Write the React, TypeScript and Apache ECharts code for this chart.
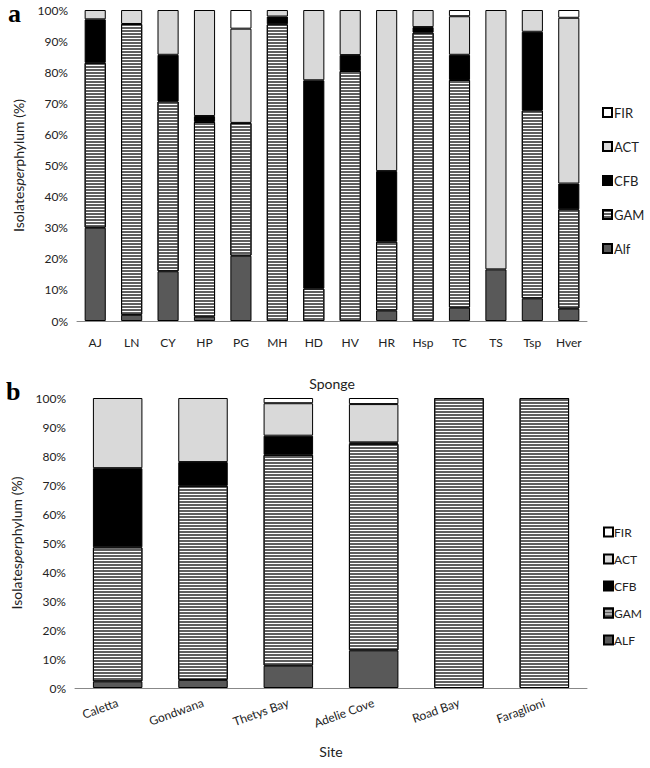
import React, { useEffect, useRef } from "react";
import * as echarts from "echarts";

const spongeCats = ["AJ", "LN", "CY", "HP", "PG", "MH", "HD", "HV", "HR", "Hsp", "TC", "TS", "Tsp", "Hver"];
const aAlf = [30, 2, 16, 1.4, 21, 0, 0, 0, 3.4, 0, 4.3, 16.6, 7.3, 4];
const aGAM = [53, 93.5, 54.6, 62.6, 42.7, 95.4, 10.4, 80.4, 22.1, 92.7, 73.2, 0, 60.4, 31.9];
const aCFB = [14, 0, 15, 1.9, 0, 2.5, 67, 5.1, 22.7, 1.8, 8.1, 0, 25.3, 8.3];
const aACT = [3, 4.5, 14.4, 34.1, 30.3, 2.1, 22.6, 14.5, 51.8, 5.5, 12.4, 83.4, 7, 53.3];
const aFIR = [0, 0, 0, 0, 6, 0, 0, 0, 0, 0, 2, 0, 0, 2.5];

const siteCats = ["Caletta", "Gondwana", "Thetys Bay", "Adelie Cove", "Road Bay", "Faraglioni"];
const bALF = [2.3, 2.8, 7.7, 13, 0, 0];
const bGAM = [46.2, 66.9, 72.7, 71.2, 100, 100];
const bCFB = [27.3, 8.2, 6.6, 0.5, 0, 0];
const bACT = [24.2, 22.1, 11.2, 13.2, 0, 0];
const bFIR = [0, 0, 1.8, 2.1, 0, 0];

const yTicks = [0, 10, 20, 30, 40, 50, 60, 70, 80, 90, 100];

const FONT = "Lato";

const styles: Record<string, any> = {
  ALF: { color: "#595959" },
  GAM: {
    color: "#ffffff",
    decal: {
      symbol: "rect",
      symbolSize: 1,
      dashArrayX: [1, 0],
      dashArrayY: [2, 1],
      color: "#5f5f5f",
      rotation: 0,
    },
  },
  CFB: { color: "#000000" },
  ACT: { color: "#d9d9d9" },
  FIR: { color: "#ffffff" },
};

function mkSeries(name: string, key: string, values: number[], axisIdx: number, stack: string) {
  return {
    type: "bar",
    name,
    stack,
    xAxisIndex: axisIdx,
    yAxisIndex: axisIdx,
    barCategoryGap: "42%",
    data: values.map((v) => (v > 0 ? v : null)),
    itemStyle: { ...styles[key], borderColor: "#000", borderWidth: 1 },
    emphasis: { disabled: true },
  };
}

export default function App() {
  const ref = useRef<HTMLDivElement>(null);
  useEffect(() => {
    document.body.style.margin = "0";
    const chart = echarts.init(ref.current!, null, { renderer: "svg" });
    const yAxisCommon = (idx: number) => ({
      type: "value",
      gridIndex: idx,
      min: 0,
      max: 100,
      interval: 10,
      axisLine: { show: false },
      axisTick: { show: false },
      splitLine: { show: false },
      axisLabel: {
        formatter: (v: number) => (yTicks.includes(v) ? v + "%" : ""),
        fontFamily: FONT,
        fontSize: 12,
        color: "#222",
        margin: 9,
      },
      name: "{n|Isolates}{i|per}{n|phylum (%)}",
      nameLocation: "middle",
      nameRotate: 90,
      nameGap: 52,
      nameMoveOverlap: false,
      nameTextStyle: {
        rich: {
          n: { fontFamily: FONT, fontSize: 14, color: "#222" },
          i: { fontFamily: FONT, fontSize: 14, color: "#222", fontStyle: "italic" },
        },
      },
    });
    const legendCommon = {
      orient: "vertical",
      icon: "rect",
      itemWidth: 9,
      itemHeight: 9,
      padding: 0,
      selectedMode: false,
    };
    chart.setOption({
      animation: false,
      backgroundColor: "#fff",
      graphic: [
        { type: "text", left: 8, top: 0, style: { text: "a", font: 'bold 26px "Liberation Serif"', fill: "#000" } },
        { type: "text", left: 6, top: 378, style: { text: "b", font: 'bold 26px "Liberation Serif"', fill: "#000" } },
      ],
      grid: [
        { left: 77, top: 10, width: 510, height: 311, outerBoundsMode: "none", containLabel: false },
        { left: 75, top: 398, width: 512, height: 290, outerBoundsMode: "none", containLabel: false },
      ],
      legend: [
        {
          ...legendCommon,
          left: 602,
          top: 106,
          itemGap: 21,
          textStyle: { fontFamily: FONT, fontSize: 13, color: "#222", padding: [0, 0, 0, -3] },
          data: ["FIR", "ACT", "CFB", "GAM", "Alf"],
        },
        {
          ...legendCommon,
          left: 603,
          top: 526,
          itemGap: 15,
          textStyle: { fontFamily: FONT, fontSize: 12, color: "#222", padding: [0, 0, 0, -4] },
          data: ["FIR ", "ACT ", "CFB ", "GAM ", "ALF"],
        },
      ],
      xAxis: [
        {
          type: "category",
          gridIndex: 0,
          data: spongeCats,
          axisLine: { lineStyle: { color: "#888" } },
          axisTick: { show: false },
          axisLabel: { fontFamily: FONT, fontSize: 12, color: "#222", margin: 15 },
          name: "Sponge",
          nameLocation: "middle",
          nameGap: 55,
          nameMoveOverlap: false,
          nameTextStyle: { fontFamily: FONT, fontSize: 14, color: "#222" },
        },
        {
          type: "category",
          gridIndex: 1,
          data: siteCats,
          axisLine: { lineStyle: { color: "#888" } },
          axisTick: { show: false },
          axisLabel: { fontFamily: FONT, fontSize: 12, color: "#222", margin: 14, rotate: 20 },
          name: "Site",
          nameLocation: "middle",
          nameGap: 56,
          nameMoveOverlap: false,
          nameTextStyle: { fontFamily: FONT, fontSize: 14, color: "#222" },
        },
      ],
      yAxis: [yAxisCommon(0), yAxisCommon(1)],
      series: [
        mkSeries("Alf", "ALF", aAlf, 0, "a"),
        mkSeries("GAM", "GAM", aGAM, 0, "a"),
        mkSeries("CFB", "CFB", aCFB, 0, "a"),
        mkSeries("ACT", "ACT", aACT, 0, "a"),
        mkSeries("FIR", "FIR", aFIR, 0, "a"),
        mkSeries("ALF", "ALF", bALF, 1, "b"),
        mkSeries("GAM ", "GAM", bGAM, 1, "b"),
        mkSeries("CFB ", "CFB", bCFB, 1, "b"),
        mkSeries("ACT ", "ACT", bACT, 1, "b"),
        mkSeries("FIR ", "FIR", bFIR, 1, "b"),
      ],
    });
    return () => chart.dispose();
  }, []);
  return <div ref={ref} style={{ width: 650, height: 768, position: "absolute", left: 0, top: 0 }} />;
}
